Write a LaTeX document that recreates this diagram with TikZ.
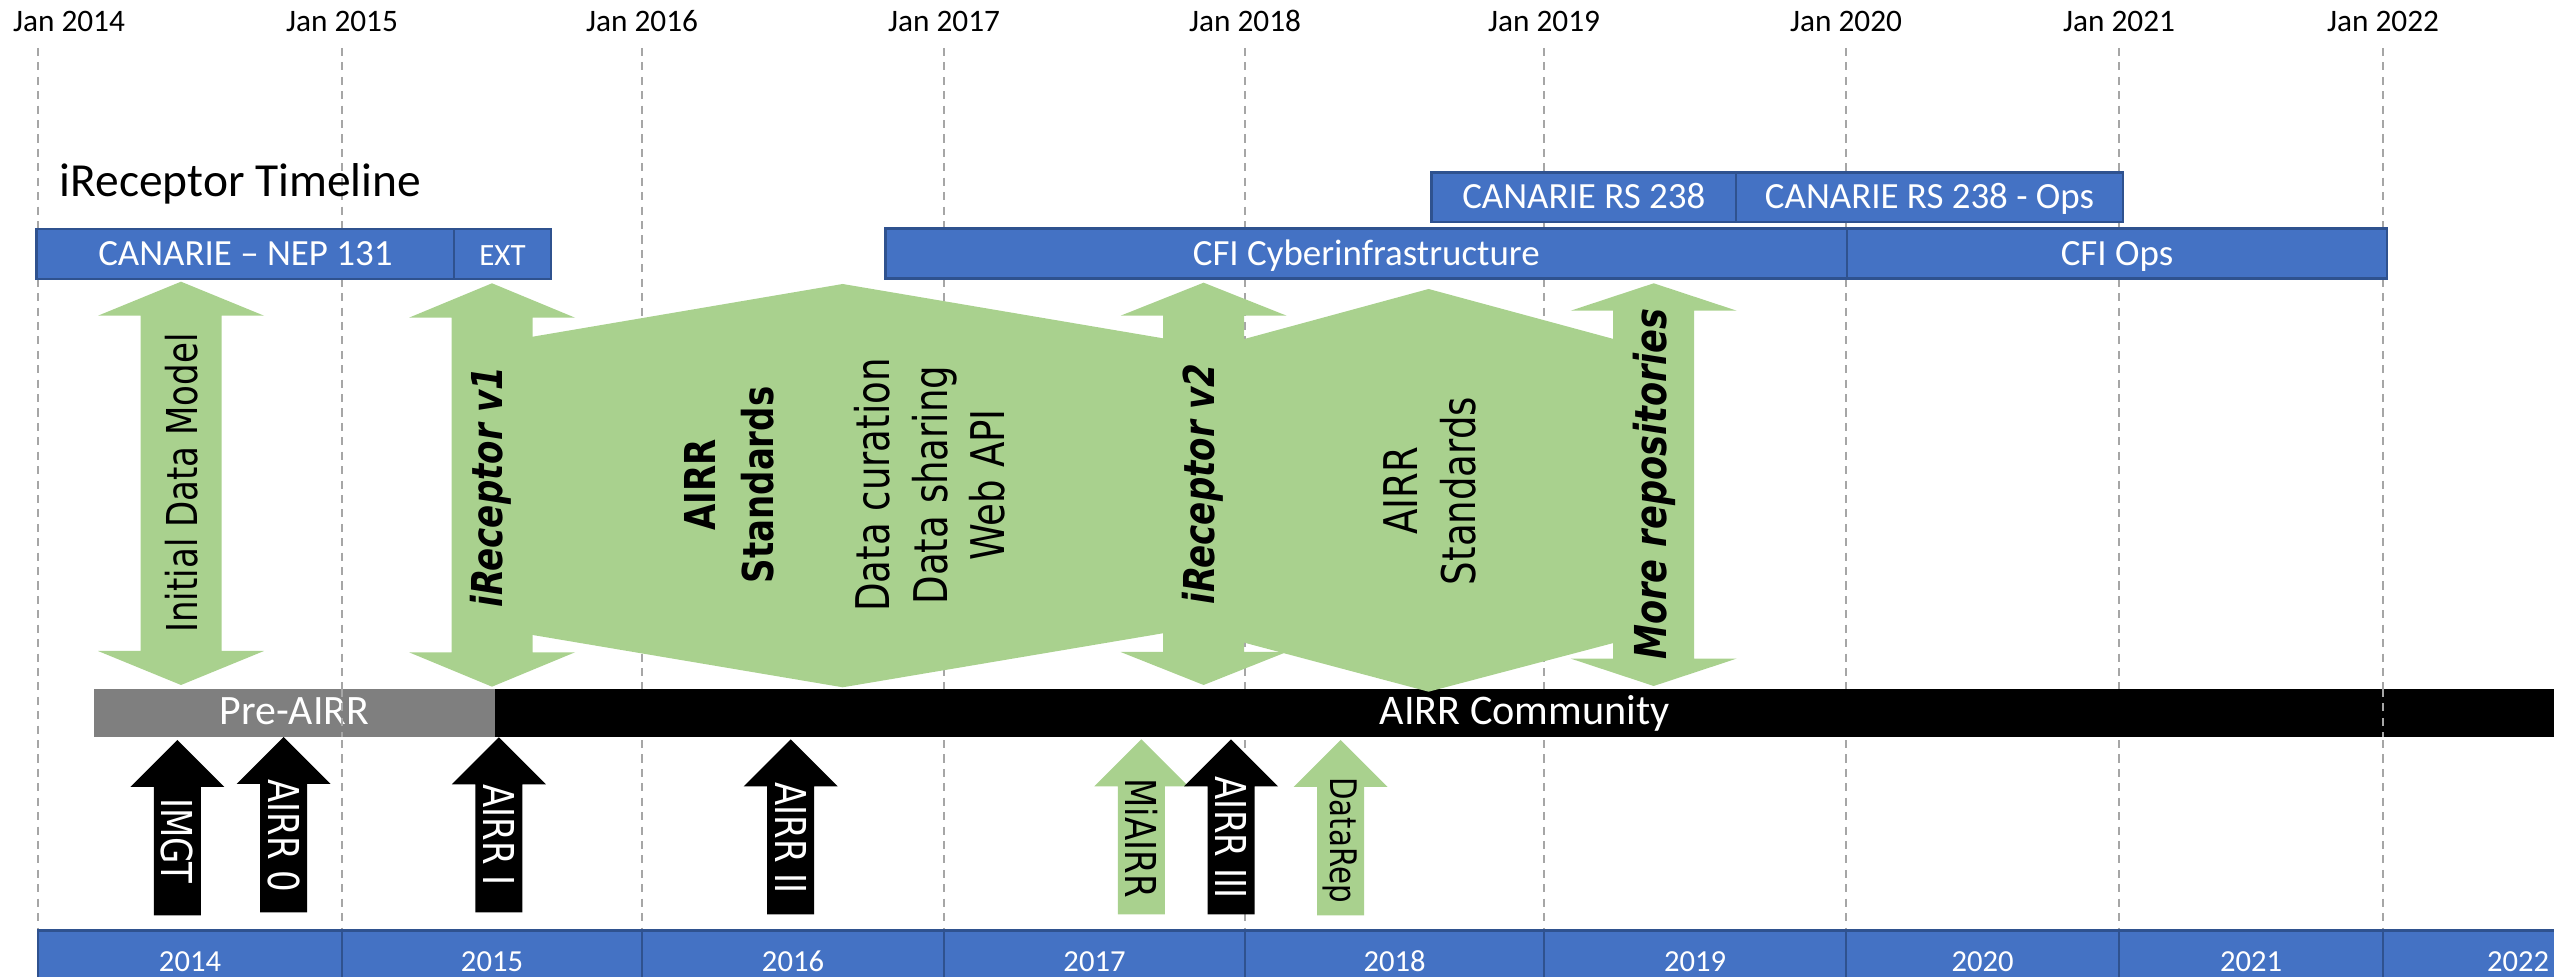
\documentclass[tikz,border=0pt]{standalone}
\usepackage{fontspec}
\setmainfont{Carlito}
\newfontfamily\vfont[FakeStretch=0.8]{DejaVu Sans}
\definecolor{tlblue}{HTML}{4472C4}
\definecolor{tlborder}{HTML}{2F528F}
\definecolor{tlgreen}{HTML}{A9D18E}
\definecolor{tlgray}{HTML}{7F7F7F}
\definecolor{gridgray}{HTML}{A6A6A6}
% double arrow: centre x, top tip, bottom tip, head depth
\def\dblarr(#1,#2,#3,#4){\fill[tlgreen] (#1,#2) -- (#1+83,#2+#4) -- (#1+40.5,#2+#4) -- (#1+40.5,#3-#4) -- (#1+83,#3-#4) -- (#1,#3) -- (#1-83,#3-#4) -- (#1-40.5,#3-#4) -- (#1-40.5,#2+#4) -- (#1-83,#2+#4) -- cycle;}
% up arrow: colour, centre x, tip, bottom
\def\uparr[#1](#2,#3,#4){\fill[#1] (#2,#3) -- (#2+47,#3+47) -- (#2+23.5,#3+47) -- (#2+23.5,#4) -- (#2-23.5,#4) -- (#2-23.5,#3+47) -- (#2-47,#3+47) -- cycle;}

\begin{document}
\begin{tikzpicture}[x=0.01cm, y=-0.01cm,
	grid/.style={gridgray, line width=0.6pt, dash pattern=on 2.3pt off 1.8pt},
	janlbl/.style={anchor=base, inner sep=0pt, font=\fontsize{8.9pt}{10pt}\selectfont},
	bar/.style={draw=tlborder, fill=tlblue, line width=0.7pt},
	barlbl/.style={text=white, inner sep=0pt, text height=0.66em, text depth=0pt, font=\fontsize{10.5pt}{12pt}\selectfont},
	vlbl/.style={inner sep=0pt, align=center, rotate=90, font=\vfont\fontsize{12.1pt}{16.4pt}\selectfont},
	listlbl/.style={vlbl, font=\vfont\fontsize{13.2pt}{16.4pt}\selectfont},
	boldlbl/.style={vlbl, font=\vfont\bfseries\fontsize{12.1pt}{16.4pt}\selectfont},
	slantlbl/.style={vlbl, font=\vfont\bfseries\itshape\fontsize{12.1pt}{14pt}\selectfont},
	slbl/.style={inner sep=0pt, rotate=-90, font=\vfont\fontsize{12.1pt}{14pt}\selectfont}]
		%%%%% START %%%%%
		\useasboundingbox (0,0) rectangle (2554,977);
		\clip (0,0) rectangle (2554,977);
		
		\foreach \x/\lx/\yr in {38/69/2014, 342/342/2015, 642/642/2016, 944/944/2017, 1245/1245/2018, 1544/1544/2019, 1846/1846/2020, 2119/2119/2021, 2383/2383/2022}{
			\draw[grid] (\x,48) -- (\x,930);
			\node[janlbl] (jan\yr) at (\lx,31.7) {Jan \yr};
		}
		
		\node[anchor=base west, inner sep=0pt, font=\fontsize{13.5pt}{16pt}\selectfont] (title) at (59,196.5) {iReceptor Timeline};
		
		% funding
		\draw[bar] (36.7,229) rectangle node[barlbl] (nep) {CANARIE – NEP 131} (454,279);
		\draw[bar] (454,229) rectangle node[barlbl, font=\fontsize{8.8pt}{10pt}\selectfont] (ext) {EXT} (551,279);
		\draw[bar] (885.6,228.7) rectangle node[barlbl] (cfi) {CFI Cyberinfrastructure} (1847,278.3);
		\draw[bar] (1847,228.7) rectangle node[barlbl] (cfiops) {CFI Ops} (2387,278.3);
		\draw[bar] (1431.5,172.7) rectangle node[barlbl] (rs) {CANARIE RS 238} (1736,222);
		\draw[bar] (1736,172.7) rectangle node[barlbl] (rsops) {CANARIE RS 238 - Ops} (2123,222);
		
		% community
		\fill[tlgray] (93.7,689) rectangle node[barlbl, font=\fontsize{11.9pt}{14pt}\selectfont] (pre) {Pre-AIRR} (495,737.3);
		\fill[black] (495,689) rectangle node[barlbl, font=\fontsize{12pt}{14pt}\selectfont] (comm) {AIRR Community} (2554,737.3);
		\draw[grid] (342,689) -- (342,737.3);
		\draw[grid] (2383,689) -- (2383,737.3);
		
		% years
		\foreach \x/\xn/\yr in {38/342/2014, 342/642/2015, 642/944/2016, 944/1245/2017, 1245/1544/2018, 1544/1846/2019, 1846/2119/2020, 2119/2383/2021, 2383/2653/2022}{
			\draw[bar] (\x,930.7) rectangle node[barlbl, font=\fontsize{8.7pt}{10pt}\selectfont] (yr\yr) {\yr} (\xn,990);
		}
		
		% iReceptor
		\dblarr(181,281.7,685,34)
		\dblarr(492,283.3,686.7,34.4)
		\dblarr(1203.6,282.7,685,33)
		\dblarr(1653.7,283.3,686,27.4)
		\fill[tlgreen] (520,336.7) -- (532.7,336.7) -- (842.7,284) -- (1162.9,338.3) -- (1175,338.3) -- (1175,633.3) -- (1162.9,633.3) -- (842.7,687.3) -- (532.7,635) -- (520,635) -- cycle;
		\fill[tlgreen] (1232,339) -- (1244.4,339) -- (1428.6,289) -- (1613.5,339) -- (1625,339) -- (1625,643) -- (1613.5,643) -- (1428.6,691.7) -- (1244.4,642.7) -- (1232,642.7) -- cycle;
		
		\node[vlbl] (idm) at (182,483) {Initial Data Model};
		\node[slantlbl] (irv1) at (491,487) {iReceptor v1};
		\node[boldlbl] (std1) at (729,485) {AIRR\\Standards};
		\node[listlbl] (api) at (930,485) {Data curation\\Data sharing\\Web API};
		\node[slantlbl] (irv2) at (1203,484) {iReceptor v2};
		\node[listlbl] (std2) at (1430,491) {AIRR\\Standards};
		\node[slantlbl, font=\vfont\bfseries\itshape\fontsize{12.5pt}{14pt}\selectfont] (more) at (1654,484) {More repositories};
		
		% meetings
		\uparr[black](177.3,740,915.3)
		\uparr[black](283.6,737,912.3)
		\uparr[black](498.8,737.3,912.3)
		\uparr[black](790.7,739.3,914.3)
		\uparr[tlgreen](1141.4,739.3,914.3)
		\uparr[black](1231,739.3,914.3)
		\uparr[tlgreen](1340.5,740,915.3)
		
		\node[slbl, text=white] (imgt) at (177.3,840.8) {IMGT};
		\node[slbl, text=white] (airr0) at (283.6,836) {AIRR 0};
		\node[slbl, text=white] (airr1) at (498.8,835) {AIRR I};
		\node[slbl, text=white] (airr2) at (790.7,838) {AIRR II};
		\node[slbl] (miairr) at (1141.4,838) {MiAIRR};
		\node[slbl, text=white] (airr3) at (1231,837.5) {AIRR III};
		\node[slbl, font=\vfont\fontsize{10.4pt}{12pt}\selectfont] (datarep) at (1340.5,840) {DataRep};
		%%%%% END %%%%%
\end{tikzpicture}
\end{document}
